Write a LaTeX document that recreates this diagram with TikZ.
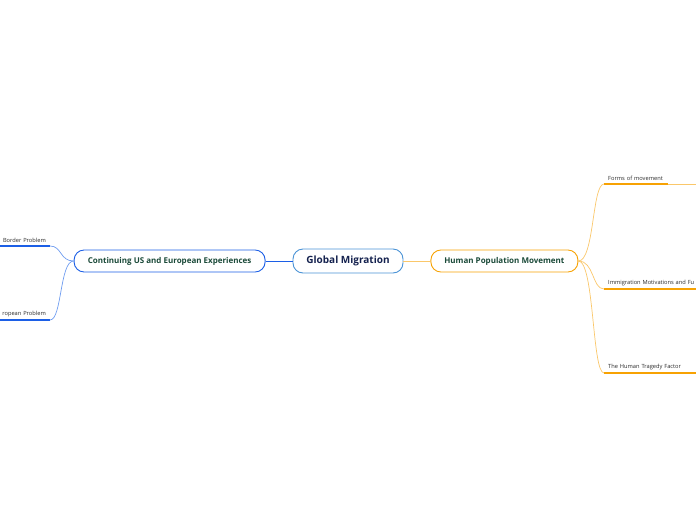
\documentclass[tikz,border=0pt]{standalone}
\usepackage{fontspec}
\setmainfont{Open Sans}
\usepackage{xcolor}
\usetikzlibrary{positioning,calc}
\definecolor{rootblue}{HTML}{4A93D6}
\definecolor{leftblue}{HTML}{1C5FE6}
\definecolor{lineblue}{HTML}{6E9CF0}
\definecolor{mainorange}{HTML}{F7A203}
\definecolor{lineorange}{HTML}{FAC76A}
\definecolor{navytext}{HTML}{15224F}
\definecolor{greentext}{HTML}{1B4A39}
\definecolor{labeltext}{HTML}{2A2A2A}

\begin{document}
\begin{tikzpicture}[x=1pt,y=-1pt]
\tikzset{
  root/.style={draw=rootblue,line width=0.9pt,rounded corners=10pt,minimum height=24pt,minimum width=110pt,fill=white,text=navytext,font=\fontsize{10}{11}\selectfont\bfseries},
  topic/.style={draw,line width=0.9pt,rounded corners=10pt,minimum height=22pt,fill=white,text=greentext,font=\fontsize{8}{9}\selectfont\bfseries},
  sub/.style={inner xsep=4pt,inner ysep=3pt,text=labeltext,font=\fontsize{5.7}{6.5}\selectfont},
  arrR/.style={draw=lineorange,line width=0.7pt},
  arrL/.style={draw=lineblue,line width=0.7pt},
  ulR/.style={draw=mainorange,line width=1.4pt},
  ulL/.style={draw=leftblue,line width=1.4pt}
}
\useasboundingbox (0,0) rectangle (696,520);
\clip (0,0) rectangle (696,520);
\node(gm)[root] at (348,261){Global Migration};
\node(cu)[topic,draw=leftblue,left=27pt of gm,minimum width=191pt]{Continuing US and European Experiences};
\node(hp)[topic,draw=mainorange,right=27pt of gm,minimum width=147pt]{Human Population Movement};
\draw[draw=leftblue,line width=0.7pt](gm)--(cu); \draw[arrR](gm)--(hp);
% right side branches
\node(fm)[sub,anchor=south west,text width=56pt] at (604,184){Forms of movement};
\node(im)[sub,anchor=south west,text width=100pt] at (604,289){Immigration Motivations and Fu};
\node(ht)[sub,anchor=south west,text width=100pt] at (604,373){The Human Tragedy Factor};
\coordinate(fmend) at (700,184);
\draw[ulR](fm.south west)--(fm.south east); \draw[arrR](fm.south east)--(fmend);
\draw[ulR](im.south west)--(im.south east);
\draw[ulR](ht.south west)--(ht.south east);
\draw[arrR](hp.east) .. controls +(16,0) and +(-12,0) .. (fm.south west);
\draw[arrR](hp.east) .. controls +(16,0) and +(-12,0) .. (im.south west);
\draw[arrR](hp.east) .. controls +(16,0) and +(-12,0) .. (ht.south west);
% left side branches
\node(bp)[sub,anchor=south east,text width=80pt,align=right] at (50,246){Border Problem};
\node(ep)[sub,anchor=south east,text width=80pt,align=right] at (50,320){ropean Problem};
\draw[ulL](bp.south west)--(bp.south east);
\draw[ulL](ep.south west)--(ep.south east);
\draw[arrL](cu.west) .. controls +(-14,0) and +(12,0) .. (bp.south east);
\draw[arrL](cu.west) .. controls +(-14,0) and +(12,0) .. (ep.south east);
\end{tikzpicture}
\end{document}
